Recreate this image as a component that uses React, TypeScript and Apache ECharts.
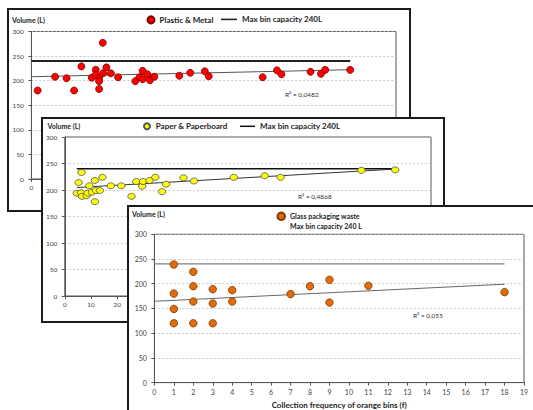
import React, { useEffect, useRef } from "react";
import * as echarts from "echarts";

const FONT = "Lato, 'Liberation Sans', sans-serif";

// ---------- Panel 1: Plastic & Metal ----------
const plasticX = [2.4, 9.1, 13.5, 16.4, 19.2, 23.2, 24.7, 24.7, 26, 26, 26, 27.4, 27.5, 28.8, 30.5, 33.3, 39.9, 41.5, 42.7, 42.7, 44.5, 45.5, 47.2, 56.8, 61, 66.6, 68.1, 88.8, 94.3, 96, 107.2, 111.2, 112.8, 122.4];
const plasticY = [180, 208, 205, 180, 229, 206, 222, 212, 205, 199, 183, 277, 215, 227, 215, 207, 199, 207, 220, 203, 213, 201, 208, 210, 216, 219, 209, 207, 221, 213, 218, 214, 222, 222];
const plasticMaxX = [0, 122.4];
const plasticMaxY = [240, 240];
const plasticTrendX = [0, 122.4];
const plasticTrendY = [208, 222.3];
const plasticR2 = "R\u00b2 = 0,0482";
const plasticVisibleXLabels = [0];

// ---------- Panel 2: Paper & Paperboard ----------
const paperX = [4.6, 5.3, 6.4, 6.2, 6.6, 8.3, 8.7, 9.4, 10.4, 11.5, 11.5, 11.9, 13.4, 14.4, 17.6, 21.6, 25.5, 27.3, 29.6, 29.9, 32.4, 34.6, 37.2, 38.7, 45.4, 49.4, 64.6, 76.4, 82.5, 113.4, 126.3];
const paperY = [194, 214, 233, 195, 188, 189, 194, 208, 196, 218, 178, 199, 199, 224, 208, 208, 188, 216, 207, 216, 218, 224, 197, 211, 223, 217, 224, 227, 224, 237, 238];
const paperMaxX = [4.6, 126.3];
const paperMaxY = [240, 240];
const paperTrendX = [4.6, 126.3];
const paperTrendY = [204.6, 239.5];
const paperR2 = "R\u00b2 = 0,4868";
const paperVisibleXLabels = [0, 10, 20];

// ---------- Panel 3: Glass packaging waste ----------
const glassX = [1, 1, 1, 1, 2, 2, 2, 2, 3, 3, 3, 4, 4, 7, 8, 9, 9, 11, 18];
const glassY = [239, 180, 149, 120, 224, 195, 164, 120, 189, 160, 120, 187, 164, 179, 195, 208, 162, 196, 183];
const glassMaxX = [0, 18];
const glassMaxY = [240, 240];
const glassTrendX = [0, 18];
const glassTrendY = [164.5, 199];
const glassR2 = "R\u00b2 = 0,055";

const zip = (xs: number[], ys: number[]) => xs.map((x, i) => [x, ys[i]]);

type Cfg = {
  grid: { left: number; top: number; right: number; bottom: number };
  xMax: number;
  xInterval: number;
  xVisible?: number[];
  tickFont: number;
  yNameGap: number;
  yNamePad: number;
  xName?: string;
  xNameGap?: number;
  xLabelMargin?: number;
  scatterName: string;
  scatterColor: string;
  scatterBorder: string;
  scatterSize: number | number[];
  scatterData: number[][];
  maxName: string;
  maxData: number[][];
  maxColor: string;
  maxWidth: number;
  trendData: number[][];
  trendColor: string;
  legend: any[];
  r2: string;
  r2Pos: [number, number];
};

function makeOption(c: Cfg) {
  const axisColor = "#555";
  return {
    animation: false,
    backgroundColor: "#fff",
    textStyle: { fontFamily: FONT },
    grid: { ...c.grid, show: true, borderColor: "#555", borderWidth: 1, backgroundColor: "transparent" },
    xAxis: {
      type: "value",
      min: 0,
      max: c.xMax,
      interval: c.xInterval,
      axisLine: { show: true, onZero: false, lineStyle: { color: axisColor, width: 1 } },
      axisTick: { show: true, length: 3, lineStyle: { color: axisColor } },
      splitLine: { show: false },
      axisLabel: {
        fontSize: c.tickFont,
        color: "#444",
        margin: c.xLabelMargin ?? 5,
        fontFamily: FONT,
        formatter: (v: number) => (!c.xVisible || c.xVisible.indexOf(v) >= 0 ? String(v) : ""),
      },
      name: c.xName || "",
      nameLocation: "middle",
      nameGap: c.xNameGap ?? 15,
      nameTextStyle: { fontSize: 8, fontWeight: "bold", color: "#222", fontFamily: FONT },
    },
    yAxis: {
      type: "value",
      min: 0,
      max: 300,
      interval: 50,
      axisLine: { show: true, lineStyle: { color: axisColor, width: 1 } },
      axisTick: { show: true, length: 3, lineStyle: { color: axisColor } },
      splitLine: { show: true, lineStyle: { color: "#bbb", type: [2, 2], width: 0.8 } },
      axisLabel: { fontSize: c.tickFont, color: "#444", margin: 7.5, fontFamily: FONT },
      name: "Volume (L)",
      nameLocation: "end",
      nameGap: c.yNameGap,
      nameTextStyle: { fontSize: 7, fontWeight: "bold", color: "#222", fontFamily: FONT, padding: [0, c.yNamePad, 0, 0] },
    },
    legend: c.legend,
    series: [
      {
        name: c.maxName,
        type: "line",
        data: c.maxData,
        symbol: "none",
        z: 2,
        lineStyle: { color: c.maxColor, width: c.maxWidth },
        itemStyle: { color: c.maxColor },
      },
      {
        name: "trend",
        type: "line",
        data: c.trendData,
        symbol: "none",
        z: 2,
        lineStyle: { color: c.trendColor, width: 1 },
      },
      {
        name: c.scatterName,
        type: "scatter",
        data: c.scatterData,
        symbol: "circle",
        symbolSize: c.scatterSize,
        z: 3,
        itemStyle: { color: c.scatterColor, borderColor: c.scatterBorder, borderWidth: 0.8, opacity: 1 },
      },
    ],
    graphic: [
      {
        type: "text",
        left: c.r2Pos[0],
        top: c.r2Pos[1],
        style: { text: c.r2, fontSize: 6.5, fill: "#333", fontFamily: FONT },
      },
    ],
  };
}

const legendText = (size: number) => ({ fontSize: size, fontWeight: "bold", color: "#222", fontFamily: FONT });

const opt1 = makeOption({
  grid: { left: 21.5, top: 21.5, right: 13, bottom: 31 },
  xMax: 140,
  xInterval: 20,
  xVisible: plasticVisibleXLabels,
  tickFont: 6.5,
  yNameGap: 8,
  yNamePad: 6,
  scatterName: "Plastic & Metal",
  scatterColor: "#ff0000",
  scatterBorder: "#7a0000",
  scatterSize: 7,
  scatterData: zip(plasticX, plasticY),
  maxName: "Max bin capacity 240L",
  maxData: zip(plasticMaxX, plasticMaxY),
  maxColor: "#222",
  maxWidth: 2,
  trendData: zip(plasticTrendX, plasticTrendY),
  trendColor: "#555",
  legend: [
    { data: [{ name: "Plastic & Metal", icon: "circle" }], left: 137.5, top: 5.4, padding: 0, itemWidth: 7, itemHeight: 7, selectedMode: false, textStyle: legendText(8) },
    { data: [{ name: "Max bin capacity 240L", icon: "rect" }], left: 212, top: 5.4, padding: 0, itemWidth: 16, itemHeight: 1.6, selectedMode: false, textStyle: legendText(8) },
  ],
  r2: plasticR2,
  r2Pos: [276, 81],
});

const opt2 = makeOption({
  grid: { left: 19, top: 18, right: 12, bottom: 25 },
  xMax: 140,
  xInterval: 10,
  xVisible: paperVisibleXLabels,
  tickFont: 6.5,
  yNameGap: 8,
  yNamePad: 2,
  scatterName: "Paper & Paperboard",
  scatterColor: "#ffff00",
  scatterBorder: "#555",
  scatterSize: [7.5, 6],
  scatterData: zip(paperX, paperY),
  maxName: "Max bin capacity 240L",
  maxData: zip(paperMaxX, paperMaxY),
  maxColor: "#111",
  maxWidth: 1.5,
  trendData: zip(paperTrendX, paperTrendY),
  trendColor: "#333",
  legend: [
    { data: [{ name: "Paper & Paperboard", icon: "circle" }], left: 100, top: 3.3, padding: 0, itemWidth: 7.5, itemHeight: 6, selectedMode: false, textStyle: legendText(8) },
    { data: [{ name: "Max bin capacity 240L", icon: "rect" }], left: 197, top: 3.3, padding: 0, itemWidth: 15, itemHeight: 1.5, selectedMode: false, textStyle: legendText(8) },
  ],
  r2: paperR2,
  r2Pos: [255, 74],
});

const opt3 = makeOption({
  grid: { left: 22, top: 27.3, right: 21, bottom: 40.4 },
  xMax: 19,
  xInterval: 1,
  tickFont: 7,
  yNameGap: 17,
  yNamePad: 12,
  xName: "Collection frequency of orange bins (f)",
  xNameGap: 13,
  xLabelMargin: 6,
  scatterName: "Glass packaging waste",
  scatterColor: "#e36c0a",
  scatterBorder: "#7a3a05",
  scatterSize: 7.5,
  scatterData: zip(glassX, glassY),
  maxName: "Max bin capacity 240 L",
  maxData: zip(glassMaxX, glassMaxY),
  maxColor: "#808080",
  maxWidth: 1.3,
  trendData: zip(glassTrendX, glassTrendY),
  trendColor: "#666",
  legend: [
    {
      orient: "vertical",
      data: [
        { name: "Glass packaging waste", icon: "circle" },
        { name: "Max bin capacity 240 L", icon: "circle", itemStyle: { opacity: 0 } },
      ],
      left: 147.5,
      top: 4.5,
      padding: 0,
      itemWidth: 7.5,
      itemHeight: 7.5,
      itemGap: 1,
      selectedMode: false,
      textStyle: legendText(7),
    },
  ],
  r2: glassR2,
  r2Pos: [284, 105],
});

function Panel({ left, top, width, height, z, option }: { left: number; top: number; width: number; height: number; z: number; option: any }) {
  const ref = useRef<HTMLDivElement>(null);
  useEffect(() => {
    if (!ref.current) return;
    const chart = echarts.init(ref.current, undefined, { renderer: "svg" });
    chart.setOption(option);
    return () => chart.dispose();
  }, [option]);
  return (
    <div
      style={{
        position: "absolute",
        left,
        top,
        width,
        height,
        zIndex: z,
        boxSizing: "border-box",
        border: "2px solid #1a1a1a",
        background: "#fff",
      }}
    >
      <div ref={ref} style={{ width: width - 4, height: height - 4 }} />
    </div>
  );
}

export default function App() {
  return (
    <div style={{ position: "fixed", left: 0, top: 0, width: 533, height: 410, overflow: "hidden", background: "#fff" }}>
      <Panel left={7} top={8} width={404} height={204} z={1} option={opt1} />
      <Panel left={41} top={117} width={404} height={206} z={2} option={opt2} />
      <Panel left={127} top={205} width={420} height={220} z={3} option={opt3} />
    </div>
  );
}
